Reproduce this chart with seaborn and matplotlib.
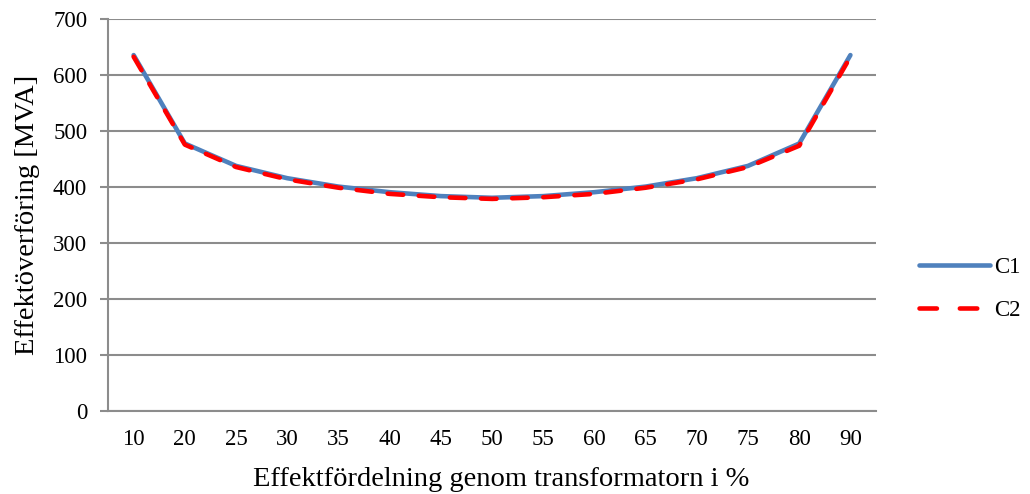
import matplotlib
matplotlib.use("Agg")
import matplotlib.pyplot as plt
import seaborn as sns
import pandas as pd
from matplotlib.lines import Line2D

categories = ["10", "20", "25", "30", "35", "40", "45", "50", "55", "60", "65", "70", "75", "80", "90"]
c1 = [636, 478, 438, 416, 401, 391, 384, 381, 384, 391, 401, 416, 438, 478, 636]
c2 = [633, 476, 436, 414, 399, 388, 382, 379, 382, 388, 399, 414, 436, 474, 633]
series_names = ["C1", "C2"]
yticks = [0, 100, 200, 300, 400, 500, 600, 700]

df = pd.DataFrame({
    "x": categories * 2,
    "y": c1 + c2,
    "serie": [series_names[0]] * len(categories) + [series_names[1]] * len(categories),
})

sns.set_theme(style="white")
plt.rcParams["font.family"] = ["Liberation Serif", "DejaVu Serif"]
plt.rcParams["text.color"] = "black"
plt.rcParams["axes.labelcolor"] = "black"

fig = plt.figure(figsize=(10.3, 4.94), dpi=100)
ax = fig.add_axes([0.1049, 0.168, 0.7456, 0.793])

grid_c = "#8c8c8c"
lw = 3.3
ax.set_axisbelow(True)
ax.yaxis.grid(True, color=grid_c, linewidth=1.5)
ax.xaxis.grid(False)

sns.lineplot(data=df, x="x", y="y", hue="serie", style="serie",
             palette={"C1": "#4F81BD", "C2": "#FF0000"},
             dashes={"C1": "", "C2": (3.4, 3.4)},
             linewidth=lw, sort=False, ax=ax, legend=False)
for ln in ax.lines:
    ln.set_solid_capstyle("round")
    ln.set_dash_capstyle("round")
    ln.set_solid_joinstyle("round")

ax.set_xlim(-0.5, len(categories) - 0.5)
ax.set_ylim(0, 700)
ax.set_yticks(yticks)
ax.tick_params(axis="y", which="major", length=6, width=1.5, color=grid_c,
               labelsize=16.5, labelcolor="black", pad=9, left=True, direction="out")
ax.tick_params(axis="x", length=0, labelsize=16.5, labelcolor="black", pad=13)

for s in ["top", "right"]:
    ax.spines[s].set_visible(False)
for s in ["left", "bottom"]:
    ax.spines[s].set_color(grid_c)
    ax.spines[s].set_linewidth(1.5)

ax.set_xlabel("Effektfördelning genom transformatorn i %", fontsize=20.5, color="black")
ax.set_ylabel("Effektöverföring [MVA]", fontsize=20.5, color="black")
ax.xaxis.set_label_coords(0.512, -0.143)
ax.yaxis.set_label_coords(-0.088, 0.5)

handles = [Line2D([], [], color="#4F81BD", linewidth=lw, solid_capstyle="round"),
           Line2D([], [], color="#FF0000", linewidth=lw, dashes=(3.8, 5.0), dash_capstyle="round")]
leg = fig.legend(handles, series_names, loc="center left", bbox_to_anchor=(0.872, 0.415),
                 frameon=False, fontsize=16.5, handlelength=3.1, labelspacing=1.0,
                 handletextpad=0.2)
for t in leg.get_texts():
    t.set_color("black")

fig.savefig("out.png", dpi=100)
